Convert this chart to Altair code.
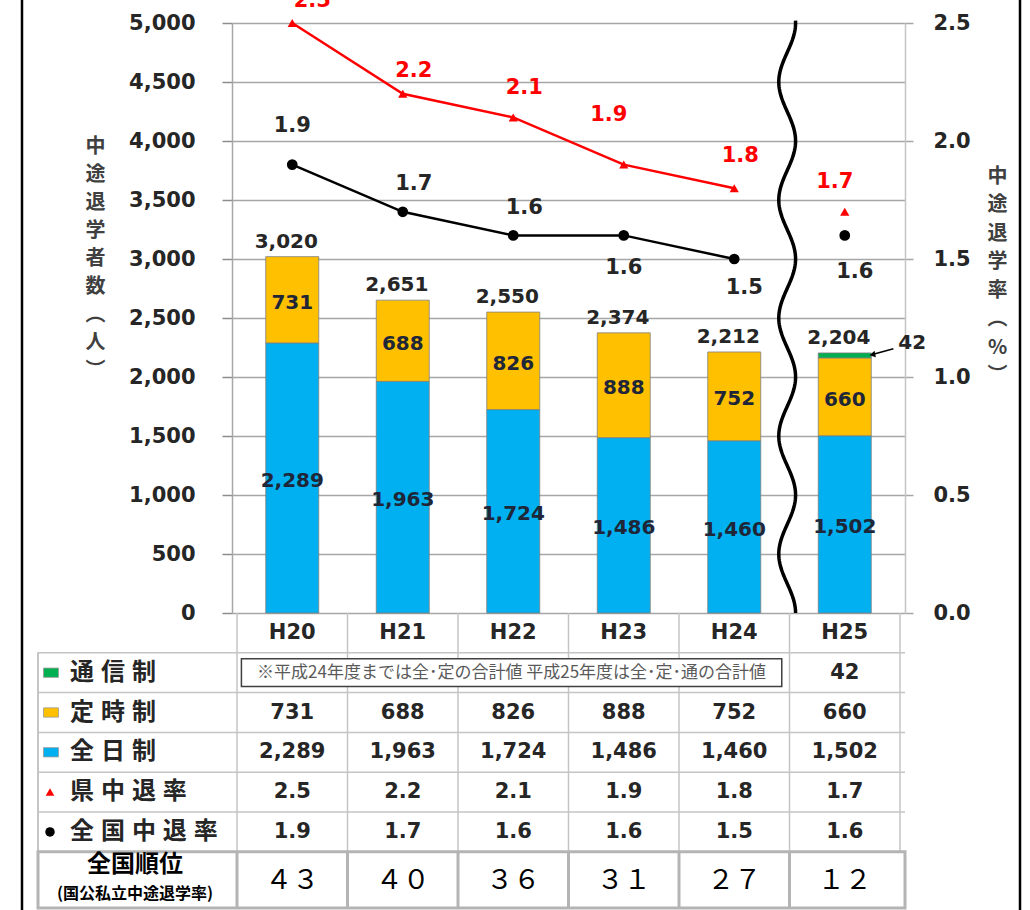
import altair as alt
import numpy as np
import pandas as pd

# ---------------- values ----------------
years = ["H20", "H21", "H22", "H23", "H24", "H25"]
full_time = [2289, 1963, 1724, 1486, 1460, 1502]        # 全日制
part_time = [731, 688, 826, 888, 752, 660]              # 定時制
correspondence = [None, None, None, None, None, 42]     # 通信制 (H25 only)
pref_rate = [2.5, 2.2, 2.1, 1.9, 1.8, 1.7]              # 県中退率 (%)
nat_rate = [1.9, 1.7, 1.6, 1.6, 1.5, 1.6]               # 全国中退率 (%)
nat_rank = [43, 40, 36, 31, 27, 12]                     # 全国順位

course_names = ["全日制", "定時制", "通信制"]
course_colors = ["#00B0F0", "#FFC000", "#00B050"]

note_text = "※平成24年度までは全･定の合計値 平成25年度は全･定･通の合計値"

# pixel offsets of the rate annotations relative to their markers
pref_dx = [20, 11, 11, -15, 6, -10]
pref_dy = [-22, -23, -29, -50, -32, -30]
nat_dx = [0, 11, 11, 0, 10, 10]
nat_dy = [-39, -28, -27, 33, 29, 37]

# ---------------- layout / style ----------------
NUM_FONT = "DejaVu Sans"
JP_FONT = "Noto Sans CJK JP"
W, H = 673, 590
ROW_H = 39.8
UPPER_BOTTOM = H + 6 * ROW_H
RANK_BOTTOM = 885
LEFT_EDGE = -194
GRID = "#a6a6a6"
TABLE_LINE = "#c4c4c4"
TEXT = "#262626"

n_years = len(years)
xs = alt.Scale(domain=[-0.5, n_years - 0.5], nice=False, zero=False)
cs = alt.Scale(domain=[0, 5000], nice=False, zero=True)
rs = alt.Scale(domain=[0, 2.5], nice=False, zero=True)


def xq(field="i"):
    return alt.X(f"{field}:Q", scale=xs, axis=None)


def yc(field, axis=None):
    return alt.Y(f"{field}:Q", scale=cs, axis=axis)


def yr(field, axis=None):
    return alt.Y(f"{field}:Q", scale=rs, axis=axis)


# ---------------- data tables ----------------
bar_records = []
for i in range(n_years):
    for k, series in enumerate([full_time, part_time, correspondence]):
        if series[i] is not None:
            bar_records.append({"i": i, "course": course_names[k], "order": k, "n": series[i]})
bar_df = pd.DataFrame(bar_records)

seg_df = pd.DataFrame(
    [{"i": i, "mid": full_time[i] / 2, "n": full_time[i]} for i in range(n_years)]
    + [{"i": i, "mid": full_time[i] + part_time[i] / 2, "n": part_time[i]} for i in range(n_years)]
)
totals = [full_time[i] + part_time[i] + (correspondence[i] or 0) for i in range(n_years)]
total_df = pd.DataFrame({"i": range(n_years), "total": totals})

rate_df = pd.DataFrame({"i": range(n_years), "pref": pref_rate, "nat": nat_rate})
last = n_years - 1  # H25 is shown after the axis break, not joined to the lines

# ---------------- axes ----------------
left_axis = alt.Axis(
    values=list(range(0, 5001, 500)), format=",d",
    grid=True, gridColor=GRID, gridWidth=1.5,
    domainColor=GRID, domainWidth=1.5,
    tickColor="#8c8c8c", tickSize=10, tickWidth=1.5,
    labelFont=NUM_FONT, labelFontSize=21, labelFontWeight="bold", labelColor=TEXT, labelPadding=27,
    title=list("中途退学者数") + ["︵", "人", "︶"],
    titleFont=JP_FONT, titleFontSize=20, titleFontWeight="bold", titleColor="#404040",
    titleAngle=0, titleAlign="center", titleBaseline="top",
    titleX=-137, titleY=113, titleLineHeight=28,
)
right_axis = alt.Axis(
    orient="right", values=[0, 0.5, 1.0, 1.5, 2.0, 2.5], format=".1f", grid=False,
    domainColor="#c4c4c4", domainWidth=1.5,
    tickColor=GRID, tickSize=8, tickWidth=1.5,
    labelFont=NUM_FONT, labelFontSize=21, labelFontWeight="bold", labelColor=TEXT, labelPadding=20,
    title=list("中途退学率") + ["︵", "%", "︶"],
    titleFont=JP_FONT, titleFontSize=20, titleFontWeight="bold", titleColor="#404040",
    titleAngle=0, titleAlign="center", titleBaseline="top",
    titleX=92, titleY=143, titleLineHeight=28.5,
)

# ---------------- chart layers ----------------
bars = alt.Chart(bar_df).mark_bar(size=53, stroke="#7f7f7f", strokeWidth=0.8).encode(
    x=xq(),
    y=alt.Y("n:Q", stack="zero", scale=cs, axis=left_axis),
    color=alt.Color("course:N", scale=alt.Scale(domain=course_names, range=course_colors), legend=None),
    order=alt.Order("order:Q"),
)

seg_labels = alt.Chart(seg_df).mark_text(
    font=NUM_FONT, fontSize=20, fontWeight="bold", color="#1e2638", dy=3
).encode(x=xq(), y=yc("mid"), text=alt.Text("n:Q", format=",d"))

total_labels = alt.Chart(total_df).mark_text(
    font=NUM_FONT, fontSize=20, fontWeight="bold", color=TEXT, baseline="bottom", dy=-5, dx=-6
).encode(x=xq(), y=yc("total"), text=alt.Text("total:Q", format=",d"))

# axis-break marker between H24 and H25
wave_v = np.arange(0, 5025, 20)
wave_df = pd.DataFrame({"v": wave_v, "x": 4.479 + 0.076 * np.cos(2 * np.pi * (5000 - wave_v) / 1000)})
wave = alt.Chart(wave_df).mark_line(color="#000000", strokeWidth=3.5).encode(
    x=alt.X("x:Q", scale=xs, axis=None), y=yc("v"), order=alt.Order("v:Q")
)

pref_line = alt.Chart(rate_df[rate_df.i < last]).mark_line(color="#FF0000", strokeWidth=2.5).encode(
    x=xq(), y=yr("pref", right_axis)
)
pref_pts = alt.Chart(rate_df).mark_point(shape="triangle-up", filled=True, color="#FF0000", size=85, opacity=1).encode(
    x=xq(), y=yr("pref")
)
nat_line = alt.Chart(rate_df[rate_df.i < last]).mark_line(color="#000000", strokeWidth=2.5).encode(
    x=xq(), y=yr("nat")
)
nat_pts = alt.Chart(rate_df).mark_circle(color="#000000", size=115, opacity=1).encode(x=xq(), y=yr("nat"))

rate_labels = []
for i in range(n_years):
    one = rate_df.iloc[[i]]
    rate_labels.append(
        alt.Chart(one).mark_text(font=NUM_FONT, fontSize=21, fontWeight="bold", color="#FF0000",
                                 dx=pref_dx[i], dy=pref_dy[i])
        .encode(x=xq(), y=yr("pref"), text=alt.Text("pref:Q", format=".1f"))
    )
    rate_labels.append(
        alt.Chart(one).mark_text(font=NUM_FONT, fontSize=21, fontWeight="bold", color=TEXT,
                                 dx=nat_dx[i], dy=nat_dy[i])
        .encode(x=xq(), y=yr("nat"), text=alt.Text("nat:Q", format=".1f"))
    )

# callout for the 通信制 segment of H25
callout_df = pd.DataFrame({"x0": [5.25], "y0": [2190], "x1": [5.44], "y1": [2240], "n": [correspondence[last]]})
callout_line = alt.Chart(callout_df).mark_rule(color="#000000", strokeWidth=1.5).encode(
    x=xq("x0"), x2="x1:Q", y=yc("y0"), y2="y1:Q"
)
callout_head = alt.Chart(callout_df).mark_point(shape="triangle-left", angle=349, filled=True,
                                                color="#000000", size=45, opacity=1).encode(x=xq("x0"), y=yc("y0"))
callout_text = alt.Chart(callout_df).mark_text(font=NUM_FONT, fontSize=20, fontWeight="bold", color=TEXT,
                                               align="left", dx=5, dy=-6).encode(
    x=xq("x1"), y=yc("y1"), text="n:Q"
)

# ---------------- table under the plot ----------------
rows_upper = ["hdr", "通信制", "定時制", "全日制", "県中退率", "全国中退率"]
ts = alt.Scale(domain=rows_upper, range=[H, UPPER_BOTTOM], paddingInner=0, paddingOuter=0)
rank_scale = alt.Scale(domain=["rank"], range=[UPPER_BOTTOM, RANK_BOTTOM], paddingInner=0, paddingOuter=0)

cells = []
for i in range(n_years):
    cells.append({"i": i, "row": "hdr", "txt": years[i]})
    if correspondence[i] is not None:
        cells.append({"i": i, "row": "通信制", "txt": f"{correspondence[i]:,}"})
    cells.append({"i": i, "row": "定時制", "txt": f"{part_time[i]:,}"})
    cells.append({"i": i, "row": "全日制", "txt": f"{full_time[i]:,}"})
    cells.append({"i": i, "row": "県中退率", "txt": f"{pref_rate[i]:.1f}"})
    cells.append({"i": i, "row": "全国中退率", "txt": f"{nat_rate[i]:.1f}"})
cell_df = pd.DataFrame(cells)

fullwidth = str.maketrans("0123456789", "０１２３４５６７８９")
rank_df = pd.DataFrame({"i": range(n_years), "row": "rank",
                        "txt": [str(r).translate(fullwidth) for r in nat_rank]})

col_edges = pd.DataFrame({"e": [k - 0.5 for k in range(n_years + 1)]})
rank_edges = pd.DataFrame({"e": [k - 0.5 for k in range(n_years)]})
row_tops = pd.DataFrame({"row": rows_upper[1:]})

vlines = alt.Chart(col_edges).mark_rule(color=TABLE_LINE, strokeWidth=1.5).encode(
    x=alt.X("e:Q", scale=xs, axis=None), y=alt.value(H), y2=alt.value(UPPER_BOTTOM)
)
left_edge = alt.Chart(row_tops).mark_rule(color=TABLE_LINE, strokeWidth=1.5).encode(
    x=alt.value(LEFT_EDGE), y=alt.value(H + ROW_H), y2=alt.value(UPPER_BOTTOM)
)
hlines = alt.Chart(row_tops).mark_rule(color=TABLE_LINE, strokeWidth=1.5).encode(
    y=alt.Y("row:N", scale=ts, axis=None, bandPosition=0), x=alt.value(LEFT_EDGE), x2=alt.value(W)
)
rank_box = alt.Chart(rank_df.iloc[[0]]).mark_rect(fill="#ffffff", fillOpacity=0, stroke="#b4b4b4", strokeWidth=3).encode(
    x=alt.value(LEFT_EDGE), x2=alt.value(W), y=alt.value(UPPER_BOTTOM), y2=alt.value(RANK_BOTTOM)
)
rank_dividers = alt.Chart(rank_edges).mark_rule(color="#b4b4b4", strokeWidth=3).encode(
    x=alt.X("e:Q", scale=xs, axis=None), y=alt.value(UPPER_BOTTOM), y2=alt.value(RANK_BOTTOM)
)

note_df = pd.DataFrame({"a": [-0.46], "b": [last - 0.57], "txt": [note_text], "row": ["通信制"]})
note_box = alt.Chart(note_df).mark_rect(fill="#ffffff", stroke="#404040", strokeWidth=1.5).encode(
    x=xq("a"), x2="b:Q", y=alt.value(H + ROW_H + 6), y2=alt.value(H + 2 * ROW_H - 6)
)
note_label = alt.Chart(note_df).mark_text(font=JP_FONT, fontSize=17, color="#5a5a5a").encode(
    x=alt.X("mid:Q", scale=xs, axis=None),
    y=alt.Y("row:N", scale=ts, axis=None), text="txt:N"
).transform_calculate(mid="(datum.a + datum.b) / 2")

cell_text = alt.Chart(cell_df).mark_text(font=NUM_FONT, fontSize=21, fontWeight="bold", color=TEXT).encode(
    x=xq(), y=alt.Y("row:N", scale=ts, axis=None), text="txt:N"
)
rank_text = alt.Chart(rank_df).mark_text(font=JP_FONT, fontSize=27, color="#000000", dy=1).encode(
    x=xq(), y=alt.Y("row:N", scale=rank_scale, axis=None), text="txt:N"
)

# row headers with their legend symbols
row_keys = ["通信制", "定時制", "全日制", "県中退率", "全国中退率"]
row_names = pd.DataFrame({"row": row_keys, "label": [" \u200a".join(r) for r in row_keys]})
row_head_text = alt.Chart(row_names).mark_text(font=JP_FONT, fontSize=24, fontWeight="bold",
                                               color=TEXT, align="left").encode(
    x=alt.value(-162), y=alt.Y("row:N", scale=ts, axis=None), text="label:N"
)
sq_df = pd.DataFrame({"row": ["通信制", "定時制", "全日制"], "c": ["#00B050", "#FFC000", "#00B0F0"]})
row_squares = alt.Chart(sq_df).mark_point(shape="M-1,-0.62H1V0.62H-1Z", filled=True, size=225,
                                          stroke="#9a9a9a", strokeWidth=0.8, opacity=1).encode(
    x=alt.value(-181), y=alt.Y("row:N", scale=ts, axis=None), fill=alt.Fill("c:N", scale=None)
)
row_tri = alt.Chart(pd.DataFrame({"row": ["県中退率"]})).mark_point(
    shape="triangle-up", filled=True, color="#FF0000", size=75, opacity=1
).encode(x=alt.value(-182), y=alt.Y("row:N", scale=ts, axis=None))
row_dot = alt.Chart(pd.DataFrame({"row": ["全国中退率"]})).mark_circle(
    color="#000000", size=90, opacity=1
).encode(x=alt.value(-182), y=alt.Y("row:N", scale=ts, axis=None))

rank_head = pd.DataFrame({"row": ["rank", "rank"], "txt": ["全国順位", "(国公私立中途退学率)"]})
rank_head_1 = alt.Chart(rank_head.iloc[[0]]).mark_text(font=JP_FONT, fontSize=24, fontWeight="bold",
                                                       color="#000000", dy=-15).encode(
    x=alt.value(-97), y=alt.Y("row:N", scale=rank_scale, axis=None), text="txt:N"
)
rank_head_2 = alt.Chart(rank_head.iloc[[1]]).mark_text(font=JP_FONT, fontSize=16, fontWeight="bold",
                                                       color="#000000", dy=14).encode(
    x=alt.value(-97), y=alt.Y("row:N", scale=rank_scale, axis=None), text="txt:N"
)

# surrounding frame lines
frame_l = alt.Chart(row_tops.iloc[[0]]).mark_rule(color="#000000", strokeWidth=2.5).encode(
    x=alt.value(-210), y=alt.value(-23), y2=alt.value(H + 297)
)
frame_r = alt.Chart(row_tops.iloc[[0]]).mark_rule(color="#000000", strokeWidth=2.5).encode(
    x=alt.value(788), y=alt.value(-23), y2=alt.value(H + 297)
)

chart = alt.layer(
    bars, seg_labels, total_labels, wave,
    pref_line, nat_line, pref_pts, nat_pts, *rate_labels,
    callout_line, callout_head, callout_text,
    vlines, left_edge, hlines, rank_box, rank_dividers, note_box, note_label,
    cell_text, rank_text, row_head_text, row_squares, row_tri, row_dot, rank_head_1, rank_head_2,
    frame_l, frame_r,
).resolve_scale(y="independent").properties(
    width=W, height=H,
    padding={"left": 232, "top": 23, "right": 1030 - 232 - W, "bottom": 910 - 23 - H},
    autosize=alt.AutoSizeParams(type="none"),
    background="#ffffff",
).configure_view(stroke=None)

chart.save("out.html", embed_options={"renderer": "svg", "actions": False})
